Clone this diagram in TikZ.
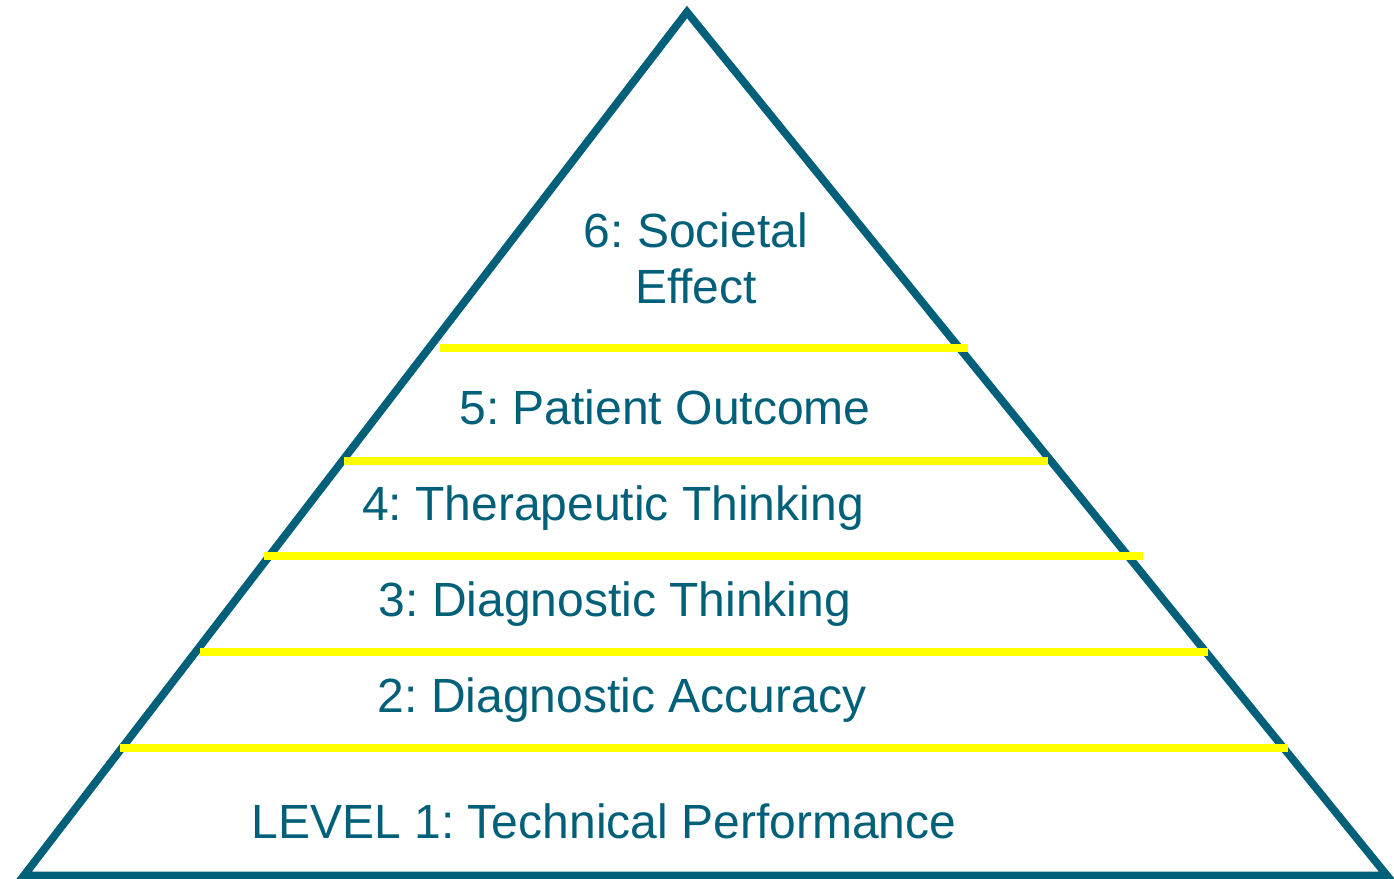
\documentclass[tikz,border=0pt]{standalone}
\usepackage{fontspec}
\setmainfont{Liberation Sans}[Ligatures=NoCommon]
\usetikzlibrary{positioning}
\frenchspacing

\definecolor{pyrteal}{RGB}{0,96,122}
\definecolor{pyryellow}{RGB}{255,255,0}

\tikzset{
  pyrside/.style={draw=pyrteal, line width=3.9pt},
  divider/.style={draw=pyryellow, line width=4.4pt},
  levelname/.style={text=pyrteal, anchor=base, inner sep=0pt, font=\fontsize{24}{28}\selectfont}
}

\begin{document}
\begin{tikzpicture}[x=0.5pt, y=-0.5pt]
  \useasboundingbox (0,0) rectangle (1394,879);
  % outline of the pyramid
  \coordinate (apex) at (687,12);
  \coordinate (bl) at (24,875.5);
  \coordinate (br) at (1387,875.5);
  \draw[pyrside] (apex) -- (bl) -- (br) -- cycle;

  % level dividers
  \draw[divider] (440,348) -- (968,348);
  \draw[divider] (344,461) -- (1048,461);
  \draw[divider] (264,556) -- (1143,556);
  \draw[divider] (200,652) -- (1208,652);
  \draw[divider] (120,748) -- (1288,748);

  % level labels (base of the two-line label is its last line)
  \node[levelname, align=center] (lvsix) at (696,303) {6: Societal\\Effect};
  \node[levelname] (lvfive) at (665,424) {5: Patient Outcome};
  \node[levelname] (lvfour) at (613,520) {4: Therapeutic Thinking};
  \node[levelname] (lvthree) at (615,616) {3: Diagnostic Thinking};
  \node[levelname] (lvtwo) at (622,712) {2: Diagnostic Accuracy};
  \node[levelname] (lvone) at (604,838) {LEVEL 1: Technical Performance};
\end{tikzpicture}
\end{document}
